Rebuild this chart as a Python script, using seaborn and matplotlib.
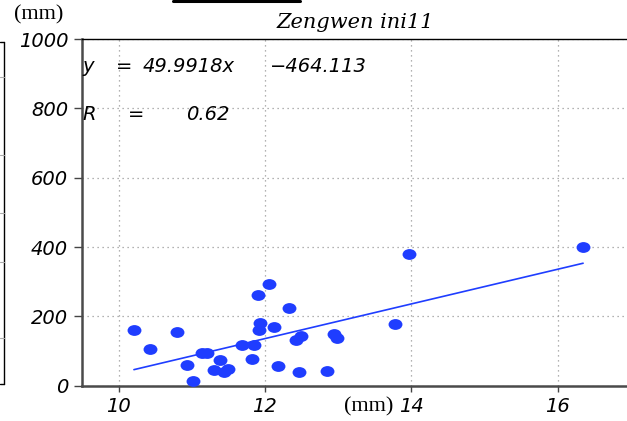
import numpy as np
import pandas as pd
import matplotlib
matplotlib.use("Agg")
import matplotlib.pyplot as plt
from matplotlib.path import Path
from matplotlib.markers import MarkerStyle
from matplotlib.transforms import Affine2D
from matplotlib.lines import Line2D
import seaborn as sns

# Observed pairs (mm)
obs_x = [10.21, 10.43, 10.80, 10.93, 11.02, 11.14, 11.21, 11.30, 11.38, 11.44,
         11.50, 11.69, 11.83, 11.85, 11.91, 11.94, 11.92, 12.06, 12.13, 12.18,
         12.33, 12.42, 12.49, 12.47, 12.85, 12.94, 12.99, 13.78, 13.97, 16.35]
obs_y = [161, 107, 154, 59, 14, 95, 95, 44, 75, 40,
         48, 118, 78, 118, 262, 182, 161, 292, 169, 56,
         224, 133, 143, 40, 43, 150, 138, 178, 380, 400]

# Linear fit reported on the chart
slope = 49.9918
intercept = -464.113
r_value = 0.62

title = "Zengwen ini11"
x_ticks = [10, 12, 14, 16]
y_ticks = [0, 200, 400, 600, 800, 1000]

blue = "#1f3dff"

sns.set_theme(style="white")
plt.rcParams["font.family"] = ["DejaVu Sans"]
plt.rcParams["text.color"] = "black"
plt.rcParams["xtick.color"] = "black"
plt.rcParams["ytick.color"] = "black"

fig = plt.figure(figsize=(6.27, 4.21), dpi=100)
ax = fig.add_axes([82 / 627, 1 - 385.7 / 421, 1 - 82 / 627, (385.7 - 39) / 421])

df = pd.DataFrame({"x": obs_x, "y": obs_y})
ellipse = Path.unit_circle().transformed(Affine2D().scale(1.0, 0.78))
sns.scatterplot(data=df, x="x", y="y", ax=ax, marker=MarkerStyle(ellipse),
                s=100, color=blue, linewidth=0, zorder=3)

fit_x = np.array([min(obs_x), max(obs_x)])
fit_df = pd.DataFrame({"x": fit_x, "y": slope * fit_x + intercept})
sns.lineplot(data=fit_df, x="x", y="y", ax=ax, color=blue, linewidth=1.2, zorder=2)

ax.set_xlim(9.5, 16.95)
ax.set_ylim(0, 1000)
ax.set_xticks(x_ticks)
ax.set_yticks(y_ticks)
ax.set_xlabel("")
ax.set_ylabel("")

tick_font = dict(family="DejaVu Sans", style="italic", size=14, weight="light",
                 color="black")
ax.set_xticklabels([str(t) for t in x_ticks], fontdict=tick_font)
ax.set_yticklabels([str(t) for t in y_ticks], fontdict=tick_font)
ax.tick_params(axis="y", direction="out", length=6, width=1, color="#444444",
               pad=4, left=True)
ax.tick_params(axis="x", direction="out", length=4, width=1, color="#444444",
               pad=4, bottom=True)

ax.grid(True, linestyle=(0, (1, 3)), color="#999999", linewidth=0.9)
ax.set_axisbelow(True)

for side in ("left", "bottom"):
    ax.spines[side].set_color("#4a4a4a")
    ax.spines[side].set_linewidth(1.8)
ax.spines["right"].set_visible(False)
ax.spines["top"].set_color("black")
ax.spines["top"].set_linewidth(1.0)
ax.spines["top"].set_linestyle((0, (3, 1)))

# Fit annotation
eq_font = dict(family="DejaVu Sans", style="italic", size=14, weight="light",
               color="black")
def px(xp, yp):
    return (xp - 82) / (627 - 82), (385.7 - yp) / (385.7 - 39)
ax.text(*px(82, 66), "y", transform=ax.transAxes, va="center", ha="left", **eq_font)
ax.text(*px(116, 66), "=", transform=ax.transAxes, va="center", ha="left", **eq_font)
ax.text(*px(143, 66), f"{slope:.4f}x", transform=ax.transAxes, va="center", ha="left", **eq_font)
ax.text(*px(270, 66), f"\u2212{abs(intercept):.3f}", transform=ax.transAxes, va="center", ha="left", **eq_font)
ax.text(*px(82, 114), "R", transform=ax.transAxes, va="center", ha="left", **eq_font)
ax.text(*px(128, 114), "=", transform=ax.transAxes, va="center", ha="left", **eq_font)
ax.text(*px(186, 114), f"{r_value:.2f}", transform=ax.transAxes, va="center", ha="left", **eq_font)

# Title and unit labels
fig.text(355 / 627, 1 - 23 / 421, title, ha="center", va="center",
         family="DejaVu Serif", style="italic", size=15, color="black")
fig.text(39 / 627, 1 - 15 / 421, "(mm)", ha="center", va="center",
         family="Liberation Serif", size=16, color="black")
fig.text(369 / 627, 1 - 407 / 421, "(mm)", ha="center", va="center",
         family="Liberation Serif", size=16, color="black")

# Edge rules at the figure border
H = 421.0
fig.add_artist(Line2D([4 / 627, 4 / 627], [1 - 42 / H, 1 - 384 / H],
                      color="black", linewidth=1.0, transform=fig.transFigure))
for yp in (42, 384):
    fig.add_artist(Line2D([0, 4 / 627], [1 - yp / H, 1 - yp / H],
                          color="black", linewidth=1.0, transform=fig.transFigure))
for yp in (77, 155, 213, 262, 338):
    fig.add_artist(Line2D([0, 4 / 627], [1 - yp / H, 1 - yp / H],
                          color="#aaaaaa", linewidth=0.8, transform=fig.transFigure))
fig.add_artist(Line2D([173 / 627, 300 / 627], [1 - 1.2 / H, 1 - 1.2 / H],
                      color="black", linewidth=2.2, transform=fig.transFigure))

fig.savefig("out.png", dpi=100)
